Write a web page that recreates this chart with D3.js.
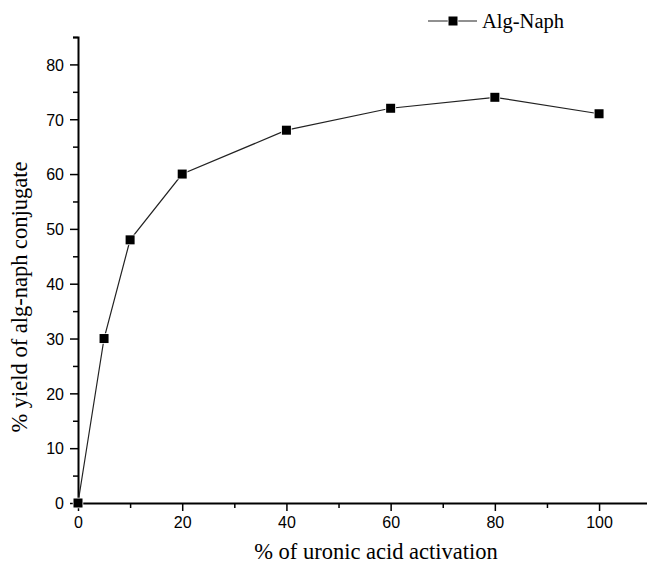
<!DOCTYPE html>
<html>
<head>
<meta charset="utf-8">
<script src="https://cdn.jsdelivr.net/npm/d3@7"></script>
<style>
  body { margin: 0; background: #fff; }
  svg { display: block; }
  .tick text { font-family: "Liberation Sans", Arial, sans-serif; font-size: 16px; fill: #000; }
  .title { font-family: "Liberation Serif", "Times New Roman", serif; font-size: 22.5px; fill: #000; }
  .legend-text { font-family: "Liberation Serif", "Times New Roman", serif; font-size: 20.5px; fill: #000; }
</style>
</head>
<body>
<svg class="chart" width="647" height="564"></svg>
<script>
const activation = [0, 5, 10, 20, 40, 60, 80, 100];
const yieldPct = [0, 30, 48, 60, 68, 72, 74, 71];
const xTicks = [0, 20, 40, 60, 80, 100];
const yTicks = [0, 10, 20, 30, 40, 50, 60, 70, 80];
const seriesName = 'Alg-Naph';

const margin = { top: 37, right: 0, bottom: 61, left: 78 };
const width = 647;
const height = 564;

const svg = d3.select('.chart');

const x = d3.scaleLinear().domain([0, 109.2]).range([margin.left, width - margin.right]);
const y = d3.scaleLinear().domain([0, 85]).range([height - margin.bottom, margin.top]);

const data = activation.map((d, i) => ({ x: d, y: yieldPct[i] }));

// minor ticks
svg.append('g')
   .attr('transform', `translate(0,${y(0)})`)
   .call(d3.axisBottom(x).tickValues(d3.range(10, 110, 20)).tickSize(5).tickFormat(''))
   .call(g => g.select('.domain').remove())
   .selectAll('line').attr('stroke-width', 1.5);

svg.append('g')
   .attr('transform', `translate(${x(0)},0)`)
   .call(d3.axisLeft(y).tickValues(d3.range(5, 90, 10)).tickSize(5).tickFormat(''))
   .call(g => g.select('.domain').remove())
   .selectAll('line').attr('stroke-width', 1.5);

// major axes
const xAxis = svg.append('g')
   .attr('transform', `translate(0,${y(0)})`)
   .call(d3.axisBottom(x).tickValues(xTicks).tickSize(8).tickSizeOuter(0).tickPadding(6));

const yAxis = svg.append('g')
   .attr('transform', `translate(${x(0)},0)`)
   .call(d3.axisLeft(y).tickValues(yTicks).tickSize(8).tickSizeOuter(5).tickPadding(6));

[xAxis, yAxis].forEach(g => {
  g.select('.domain').attr('stroke-width', 2);
  g.selectAll('.tick line').attr('stroke-width', 1.5);
});
yAxis.selectAll('.tick text').attr('dy', '0.36em');

// line
const line = d3.line().x(d => x(d.x)).y(d => y(d.y));

svg.append('path')
   .datum(data)
   .attr('fill', 'none')
   .attr('stroke', '#222')
   .attr('stroke-width', 1.2)
   .attr('d', line);

svg.append('g')
   .selectAll('rect')
   .data(data)
   .enter().append('rect')
     .attr('x', d => x(d.x) - 4.5)
     .attr('y', d => y(d.y) - 4.5)
     .attr('width', 9)
     .attr('height', 9)
     .attr('fill', '#000')
     .attr('stroke', '#fff')
     .attr('stroke-width', 1.5)
     .attr('paint-order', 'stroke');

// titles
svg.append('text')
   .attr('class', 'title')
   .attr('x', 376)
   .attr('y', 559)
   .attr('text-anchor', 'middle')
   .text('% of uronic acid activation');

svg.append('text')
   .attr('class', 'title')
   .attr('transform', 'translate(27,297) rotate(-90)')
   .attr('text-anchor', 'middle')
   .text('% yield of alg-naph conjugate');

// legend
const legend = svg.append('g').attr('transform', 'translate(428,21)');
legend.append('line')
      .attr('x1', 0).attr('x2', 49).attr('y1', 0).attr('y2', 0)
      .attr('stroke', '#222').attr('stroke-width', 1.2);
legend.append('rect')
      .attr('x', 20.5).attr('y', -4.5).attr('width', 9).attr('height', 9)
      .attr('fill', '#000').attr('stroke', '#fff').attr('stroke-width', 1.5)
      .attr('paint-order', 'stroke');
legend.append('text')
      .attr('class', 'legend-text')
      .attr('x', 54).attr('y', 7)
      .text(seriesName);
</script>
</body>
</html>
